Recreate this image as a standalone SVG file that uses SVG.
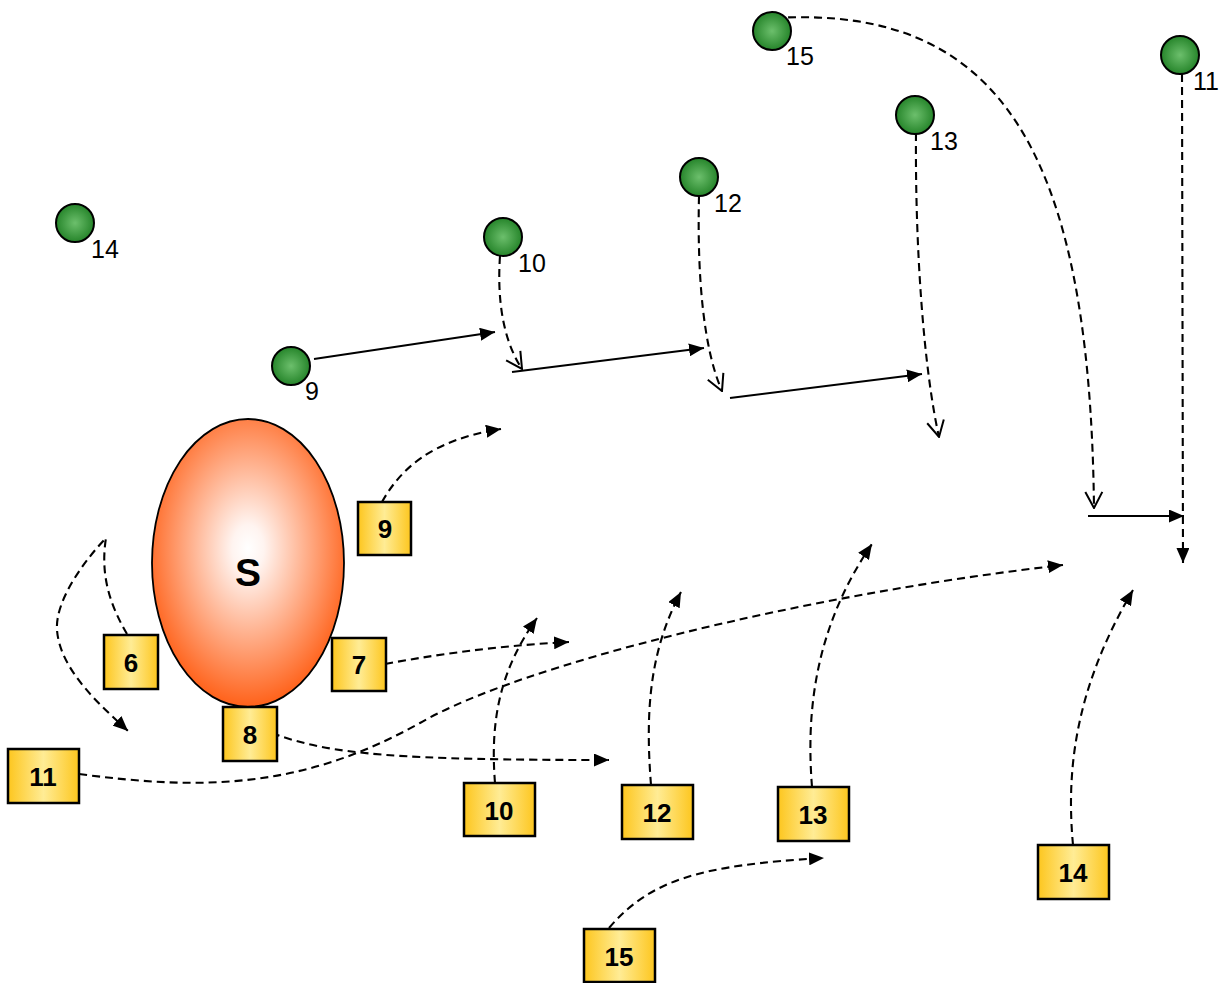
<svg xmlns="http://www.w3.org/2000/svg" width="1224" height="983" viewBox="0 0 1224 983">
  <style>
    .ball { fill: url(#ballFill); stroke: #000; stroke-width: 2; }
    .box { fill: url(#boxFill); stroke: #000; stroke-width: 2.5; }
    .blab { font-family: "Liberation Sans", Arial, sans-serif; font-size: 26px; font-weight: bold; text-anchor: middle; fill: #000; }
    .clab { font-family: "Liberation Sans", Arial, sans-serif; font-size: 25px; fill: #000; }
    .solid { fill: none; stroke: #000; stroke-width: 2; marker-end: url(#head); }
    .dash { fill: none; stroke: #000; stroke-width: 2.1; stroke-dasharray: 8 5; }
    .dash.filled { marker-end: url(#head); }
    .dash.open { marker-end: url(#vee); }
  </style>
  <defs>
    <radialGradient id="ballFill" cx="50%" cy="50%" r="55%">
      <stop offset="0" stop-color="#6cbf6c"/>
      <stop offset="1" stop-color="#1f7f24"/>
    </radialGradient>
    <linearGradient id="boxFill" x1="0" y1="0" x2="1" y2="0">
      <stop offset="0" stop-color="#fdc61e"/>
      <stop offset="0.5" stop-color="#ffec95"/>
      <stop offset="1" stop-color="#fdc61e"/>
    </linearGradient>
    <radialGradient id="sFill" cx="50%" cy="45%" r="55%">
      <stop offset="0" stop-color="#ffffff"/>
      <stop offset="0.15" stop-color="#fff4f0"/>
      <stop offset="1" stop-color="#ff6119"/>
    </radialGradient>
    <marker id="head" markerUnits="userSpaceOnUse" viewBox="0 0 15 13" refX="15" refY="6.5" markerWidth="15" markerHeight="13" orient="auto">
      <path d="M0,0 L15,6.5 L0,13 Z" fill="#000"/>
    </marker>
    <marker id="vee" markerUnits="userSpaceOnUse" viewBox="-1 -10 18 20" refX="16" refY="0" markerWidth="18" markerHeight="20" orient="auto">
      <path d="M0,-8.5 L16,0 L0,8.5" fill="none" stroke="#000" stroke-width="2"/>
    </marker>
  </defs>

  <!-- connectors -->
  <g id="connectors">
    <!-- solid links between marker points -->
    <path class="solid" d="M314,359 L495,332"/>
    <path class="solid" d="M512,372 L704,348"/>
    <path class="solid" d="M730,398 L922,374"/>
    <path class="solid" d="M1088,516 L1184,516"/>
    <!-- dashed drops from the balls -->
    <path class="dash open" d="M500,256 C497,300 503,340 522,369"/>
    <path class="dash open" d="M699,196 C697,280 704,350 722,391"/>
    <path class="dash open" d="M916,133 C915,250 924,370 939,437"/>
    <path class="dash open" d="M775,18 C1000,5 1090,150 1094,508"/>
    <path class="dash filled" d="M1182,74 L1183,563"/>
    <!-- dashed paths from the boxes -->
    <path class="dash filled" d="M382,502 C400,470 430,440 501,429"/>
    <path class="dash filled" d="M127,634 C110,605 100,575 106,538 C85,560 55,600 57,630 C60,670 100,705 128,731"/>
    <path class="dash filled" d="M385,664 C450,652 510,645 569,642"/>
    <path class="dash filled" d="M272,733 C330,755 400,760 609,760"/>
    <path class="dash filled" d="M79,774 C200,790 300,790 420,723 C520,665 800,595 1063,565"/>
    <path class="dash filled" d="M495,783 C490,720 500,670 537,618"/>
    <path class="dash filled" d="M651,785 C645,710 650,650 681,592"/>
    <path class="dash filled" d="M812,787 C805,700 820,620 872,544"/>
    <path class="dash filled" d="M1073,845 C1065,760 1080,680 1133,590"/>
    <path class="dash filled" d="M609,928 C650,880 700,865 824,858"/>
  </g>

  <!-- central body -->
  <g id="nodeS">
    <ellipse cx="248" cy="563" rx="96" ry="144" fill="url(#sFill)" stroke="#000" stroke-width="1.8"/>
    <text x="248" y="586" font-family="Liberation Sans, Arial, sans-serif" font-size="39" font-weight="bold" text-anchor="middle">S</text>
  </g>

  <!-- balls -->
  <g id="ball14"><circle class="ball" cx="75" cy="223" r="19"/><text class="clab" x="91" y="258">14</text></g>
  <g id="ball10"><circle class="ball" cx="503" cy="237" r="19"/><text class="clab" x="518" y="272">10</text></g>
  <g id="ball9"><circle class="ball" cx="291" cy="366" r="19"/><text class="clab" x="305" y="400">9</text></g>
  <g id="ball12"><circle class="ball" cx="699" cy="177" r="19"/><text class="clab" x="714" y="212">12</text></g>
  <g id="ball13"><circle class="ball" cx="915" cy="115" r="19"/><text class="clab" x="930" y="150">13</text></g>
  <g id="ball15"><circle class="ball" cx="772" cy="31" r="19"/><text class="clab" x="786" y="65">15</text></g>
  <g id="ball11"><circle class="ball" cx="1180" cy="55" r="19"/><text class="clab" x="1193" y="90">11</text></g>

  <!-- boxes -->
  <g id="box9"><rect class="box" x="358" y="502" width="53" height="53"/><text class="blab" x="385" y="538">9</text></g>
  <g id="box7"><rect class="box" x="332" y="638" width="54" height="53"/><text class="blab" x="359" y="674">7</text></g>
  <g id="box6"><rect class="box" x="104" y="635" width="54" height="54"/><text class="blab" x="131" y="672">6</text></g>
  <g id="box8"><rect class="box" x="223" y="707" width="54" height="54"/><text class="blab" x="250" y="744">8</text></g>
  <g id="box11"><rect class="box" x="8" y="749" width="71" height="54"/><text class="blab" x="43" y="786">11</text></g>
  <g id="box10"><rect class="box" x="464" y="783" width="71" height="53"/><text class="blab" x="499" y="820">10</text></g>
  <g id="box12"><rect class="box" x="622" y="785" width="71" height="54"/><text class="blab" x="657" y="822">12</text></g>
  <g id="box13"><rect class="box" x="778" y="787" width="71" height="54"/><text class="blab" x="813" y="824">13</text></g>
  <g id="box14"><rect class="box" x="1038" y="845" width="71" height="54"/><text class="blab" x="1073" y="882">14</text></g>
  <g id="box15"><rect class="box" x="584" y="929" width="71" height="53"/><text class="blab" x="619" y="966">15</text></g>
</svg>
